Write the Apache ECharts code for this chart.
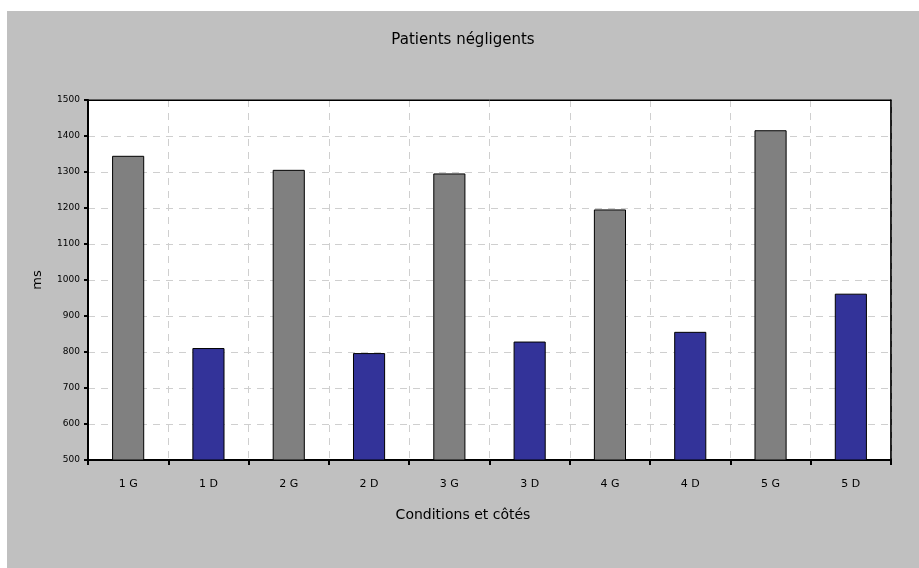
<!DOCTYPE html>
<html>
<head>
<meta charset="utf-8">
<script src="https://cdn.jsdelivr.net/npm/echarts@6/dist/echarts.min.js"></script>
<style>
  html, body { margin: 0; padding: 0; background: #ffffff; width: 919px; height: 568px; overflow: hidden; }
  #chart { position: absolute; left: 7px; top: 11px; width: 912px; height: 557px; }
</style>
</head>
<body>
<div id="chart"></div>
<script>
const titleText = 'Patients négligents';
const xAxisTitle = 'Conditions et côtés';
const yAxisTitle = 'ms';
const categories = ['1 G', '1 D', '2 G', '2 D', '3 G', '3 D', '4 G', '4 D', '5 G', '5 D'];
const values = [1345, 811, 1306, 797, 1296, 829, 1196, 856, 1416, 962];
const barColors = ['#808080', '#333399'];
const yMin = 500, yMax = 1500, yStep = 100;

const comic = "'Comic Sans MS', 'DejaVu Sans', sans-serif";
const chart = echarts.init(document.getElementById('chart'));
chart.setOption({
  backgroundColor: '#c0c0c0',
  animation: false,
  title: [{
    text: titleText,
    left: 'center',
    top: 17,
    textStyle: { fontFamily: comic, fontSize: 15, fontWeight: 'normal', color: '#000' }
  }, {
    text: xAxisTitle,
    left: 'center',
    top: 492,
    textStyle: { fontFamily: comic, fontSize: 14, fontWeight: 'normal', color: '#000' }
  }],
  grid: {
    left: 81, top: 89, right: 28, bottom: 108,
    show: true, backgroundColor: '#ffffff', borderColor: '#000', borderWidth: 1
  },
  xAxis: [{
    type: 'category',
    data: categories,
    axisLine: { lineStyle: { color: '#000', width: 2 } },
    axisTick: { show: true, length: 5, lineStyle: { color: '#000', width: 2 } },
    axisLabel: { fontFamily: comic, fontSize: 11, color: '#000', margin: 19 },
    splitLine: { show: true, lineStyle: { color: '#cfcfcf', type: [7, 6], width: 1 } }
  }, {
    type: 'category',
    position: 'top',
    data: categories,
    axisLine: { show: true, lineStyle: { color: '#000', width: 1 } },
    axisTick: { show: false },
    axisLabel: { show: false },
    splitLine: { show: false }
  }],
  yAxis: [{
    type: 'value',
    min: yMin, max: yMax, interval: yStep,
    name: yAxisTitle,
    nameLocation: 'middle',
    nameGap: 44,
    nameTextStyle: { fontFamily: comic, fontSize: 13, color: '#000' },
    axisLine: { show: true, lineStyle: { color: '#000', width: 2 } },
    axisTick: { show: true, length: 4, lineStyle: { color: '#000', width: 2 } },
    axisLabel: { fontFamily: "'DejaVu Sans', sans-serif", fontSize: 9, color: '#000', margin: 8,
                 formatter: v => String(v) },
    splitLine: { show: true, lineStyle: { color: '#cfcfcf', type: [7, 6], width: 1 } }
  }, {
    type: 'value',
    position: 'right',
    min: yMin, max: yMax, interval: yStep,
    axisLine: { show: true, lineStyle: { color: '#000', width: 1.5 } },
    axisTick: { show: false },
    axisLabel: { show: false },
    splitLine: { show: false }
  }],
  series: [{
    type: 'bar',
    barWidth: '40%',
    data: values.map((v, i) => ({
      value: v,
      itemStyle: { color: barColors[i % 2], borderColor: '#000', borderWidth: 1 }
    }))
  }]
});
</script>
</body>
</html>
